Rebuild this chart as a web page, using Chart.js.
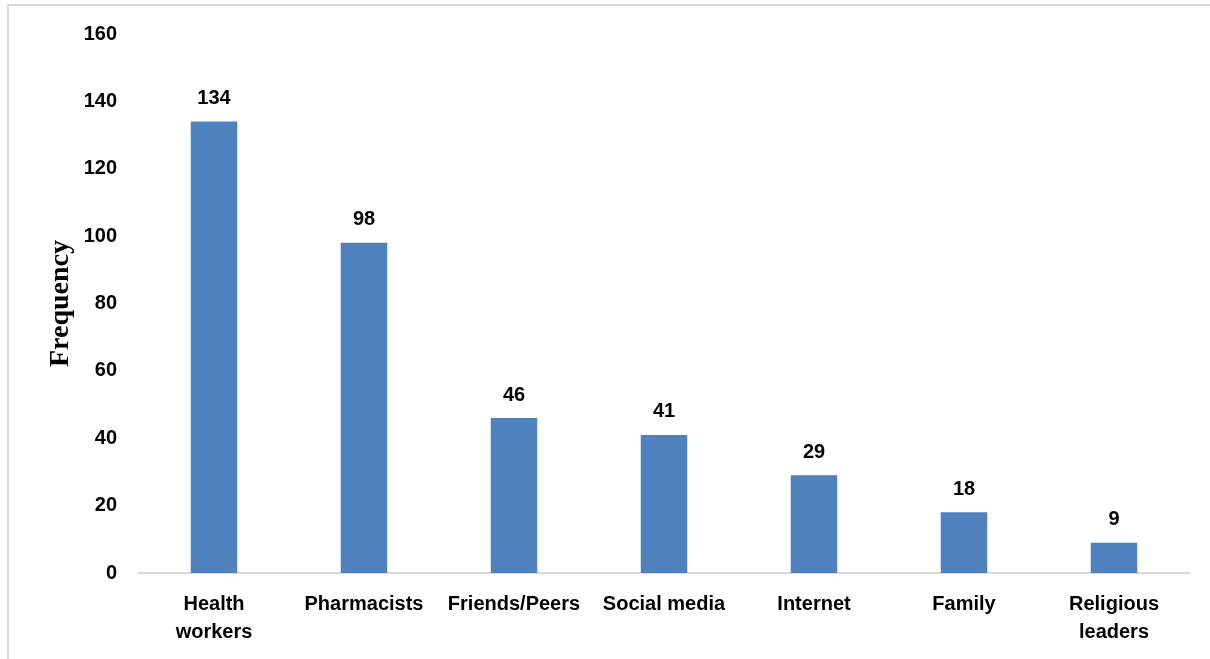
<!DOCTYPE html>
<html>
<head>
<meta charset="utf-8">
<script src="https://cdn.jsdelivr.net/npm/chart.js@4.4.1/dist/chart.umd.min.js"></script>
<style>
  html, body { margin: 0; padding: 0; background: #fff; overflow: hidden; }
  #frame { position: absolute; left: 7px; top: 4px; width: 1300px; height: 800px; border: 2px solid #d9d9d9; box-sizing: border-box; }
  #wrap { position: absolute; left: 0; top: 0; width: 1210px; height: 659px; }
</style>
</head>
<body>
<div id="frame"></div>
<div id="wrap"><canvas id="chart"></canvas></div>
<script>
// chart data
const categories = [["Health", "workers"], "Pharmacists", "Friends/Peers", "Social media", "Internet", "Family", ["Religious", "leaders"]];
const frequencies = [134, 98, 46, 41, 29, 18, 9];
const yTicks = [0, 20, 40, 60, 80, 100, 120, 140, 160];

const FONT = "'Liberation Sans', Arial, sans-serif";

// value labels above each bar
const barLabels = {
    id: 'barLabels',
    afterDatasetsDraw(chart) {
        const ctx = chart.ctx;
        const meta = chart.getDatasetMeta(0);
        ctx.save();
        ctx.font = "bold 20px " + FONT;
        ctx.fillStyle = '#000';
        ctx.textAlign = 'center';
        ctx.textBaseline = 'bottom';
        meta.data.forEach((bar, i) => {
            ctx.fillText(String(frequencies[i]), bar.x, bar.y - 13);
        });
        ctx.restore();
    }
};

new Chart(document.getElementById('chart'), {
    type: 'bar',
    data: {
        labels: categories,
        datasets: [{
            data: frequencies,
            backgroundColor: '#4f81bd',
            barPercentage: 0.62,
            categoryPercentage: 0.5
        }]
    },
    options: {
        responsive: true,
        maintainAspectRatio: false,
        animation: false,
        layout: { padding: { top: 33, right: 21, left: 0, bottom: 0 } },
        plugins: { legend: { display: false }, tooltip: { enabled: false } },
        scales: {
            x: {
                grid: { display: false, drawTicks: false },
                border: { color: '#d9d9d9', width: 2 },
                ticks: {
                    color: '#000',
                    padding: 17,
                    maxRotation: 0,
                    autoSkip: false,
                    font: { family: FONT, size: 20, weight: 'bold', lineHeight: 1.4 }
                },
                afterFit(scale) { scale.height = 86; }
            },
            y: {
                min: 0,
                max: 160,
                afterBuildTicks(scale) { scale.ticks = yTicks.map(v => ({ value: v })); },
                grid: { display: false, drawTicks: false },
                border: { display: false },
                ticks: {
                    color: '#000',
                    padding: 22,
                    font: { family: FONT, size: 20, weight: 'bold' }
                },
                title: {
                    display: true,
                    text: 'Frequency',
                    color: '#000',
                    padding: { top: 44, bottom: 0 },
                    font: { family: "'Liberation Serif', 'Times New Roman', serif", size: 28, weight: 'bold' }
                },
                afterFit(scale) { scale.width = 139; }
            }
        }
    },
    plugins: [barLabels]
});
</script>
</body>
</html>
